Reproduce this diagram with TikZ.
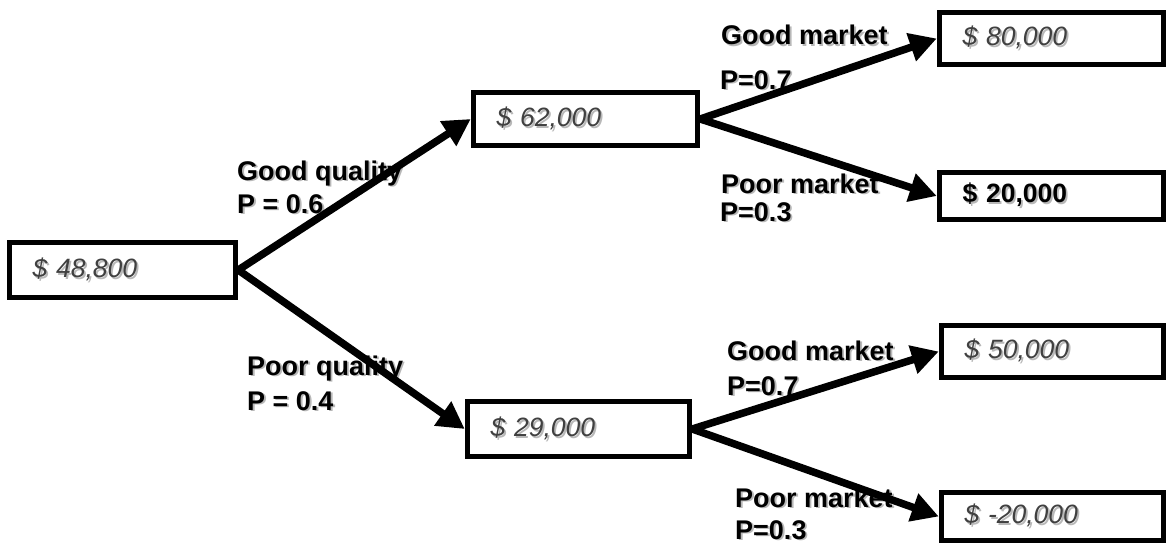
\documentclass[tikz,border=0pt]{standalone}
\usepackage{fontspec}
\setmainfont{Liberation Sans}
\usetikzlibrary{arrows.meta}
\definecolor{valgray}{HTML}{404040}
% text with a soft grey drop shadow
\newcommand\shadowtext[1]{\makebox[0pt][l]{\hspace{1.8pt}\raisebox{-1.8pt}{\textcolor{black!28}{#1}}}#1}
\tikzset{
  valbox/.style={draw=black, line width=5.5pt, fill=white, inner xsep=23pt, inner ysep=0pt,
    align=left, font=\fontsize{26.5}{30}\selectfont\itshape, text=valgray},
  boldval/.style={font=\fontsize{26.5}{30}\selectfont\bfseries, text=black},
  lbl/.style={anchor=base west, inner sep=0pt, font=\fontsize{27}{30}\selectfont\bfseries},
  branch/.style={line width=7.5pt, -{Triangle[length=27pt,width=28pt]}}
}
\begin{document}
\begin{tikzpicture}[x=1pt,y=-1pt]
\useasboundingbox (0,0) rectangle (1168,546);

% decision nodes
\node[valbox, minimum width=226pt, text width=180pt, minimum height=55pt] (root) at (122.5,270) {\shadowtext{\$ 48,800}};
\node[valbox, minimum width=224pt, text width=178pt, minimum height=53pt] (q1) at (585.5,119) {\shadowtext{\$ 62,000}};
\node[valbox, minimum width=222pt, text width=176pt, minimum height=55pt] (q2) at (578.5,429) {\shadowtext{\$ 29,000}};
\node[valbox, minimum width=224pt, text width=178pt, minimum height=52pt] (g1) at (1051.5,38.5) {\shadowtext{\$ 80,000}};
\node[valbox, boldval, minimum width=224pt, text width=178pt, minimum height=47pt] (p1) at (1051.5,196) {\shadowtext{\$ 20,000}};
\node[valbox, minimum width=222pt, text width=176pt, minimum height=52pt] (g2) at (1052.5,351.5) {\shadowtext{\$ 50,000}};
\node[valbox, minimum width=222pt, text width=176pt, minimum height=48pt] (p2) at (1052.5,516.5) {\shadowtext{\$ -20,000}};

% branch labels
\node[lbl] (gqa) at (237,180) {\shadowtext{Good quality}};
\node[lbl] (gqb) at (237,213) {\shadowtext{P = 0.6}};
\node[lbl] (pqa) at (247,375) {\shadowtext{Poor quality}};
\node[lbl] (pqb) at (247,410) {\shadowtext{P = 0.4}};
\node[lbl] (gma) at (721,45) {\shadowtext{Good market}};
\node[lbl] (gmb) at (720,89) {\shadowtext{P=0.7}};
\node[lbl] (pma) at (721,193) {\shadowtext{Poor market}};
\node[lbl] (pmb) at (720,221) {\shadowtext{P=0.3}};
\node[lbl] (gmc) at (727,360) {\shadowtext{Good market}};
\node[lbl] (gmd) at (727,395) {\shadowtext{P=0.7}};
\node[lbl] (pmc) at (735,507) {\shadowtext{Poor market}};
\node[lbl] (pmd) at (735,539) {\shadowtext{P=0.3}};

% branches
\draw[branch] (root.east) -- (q1.west);
\draw[branch] (root.east) -- (q2.west);
\draw[branch] (q1.east) -- (g1.west);
\draw[branch] (q1.east) -- (p1.west);
\draw[branch] (q2.east) -- (g2.west);
\draw[branch] (q2.east) -- (p2.west);
\end{tikzpicture}
\end{document}
